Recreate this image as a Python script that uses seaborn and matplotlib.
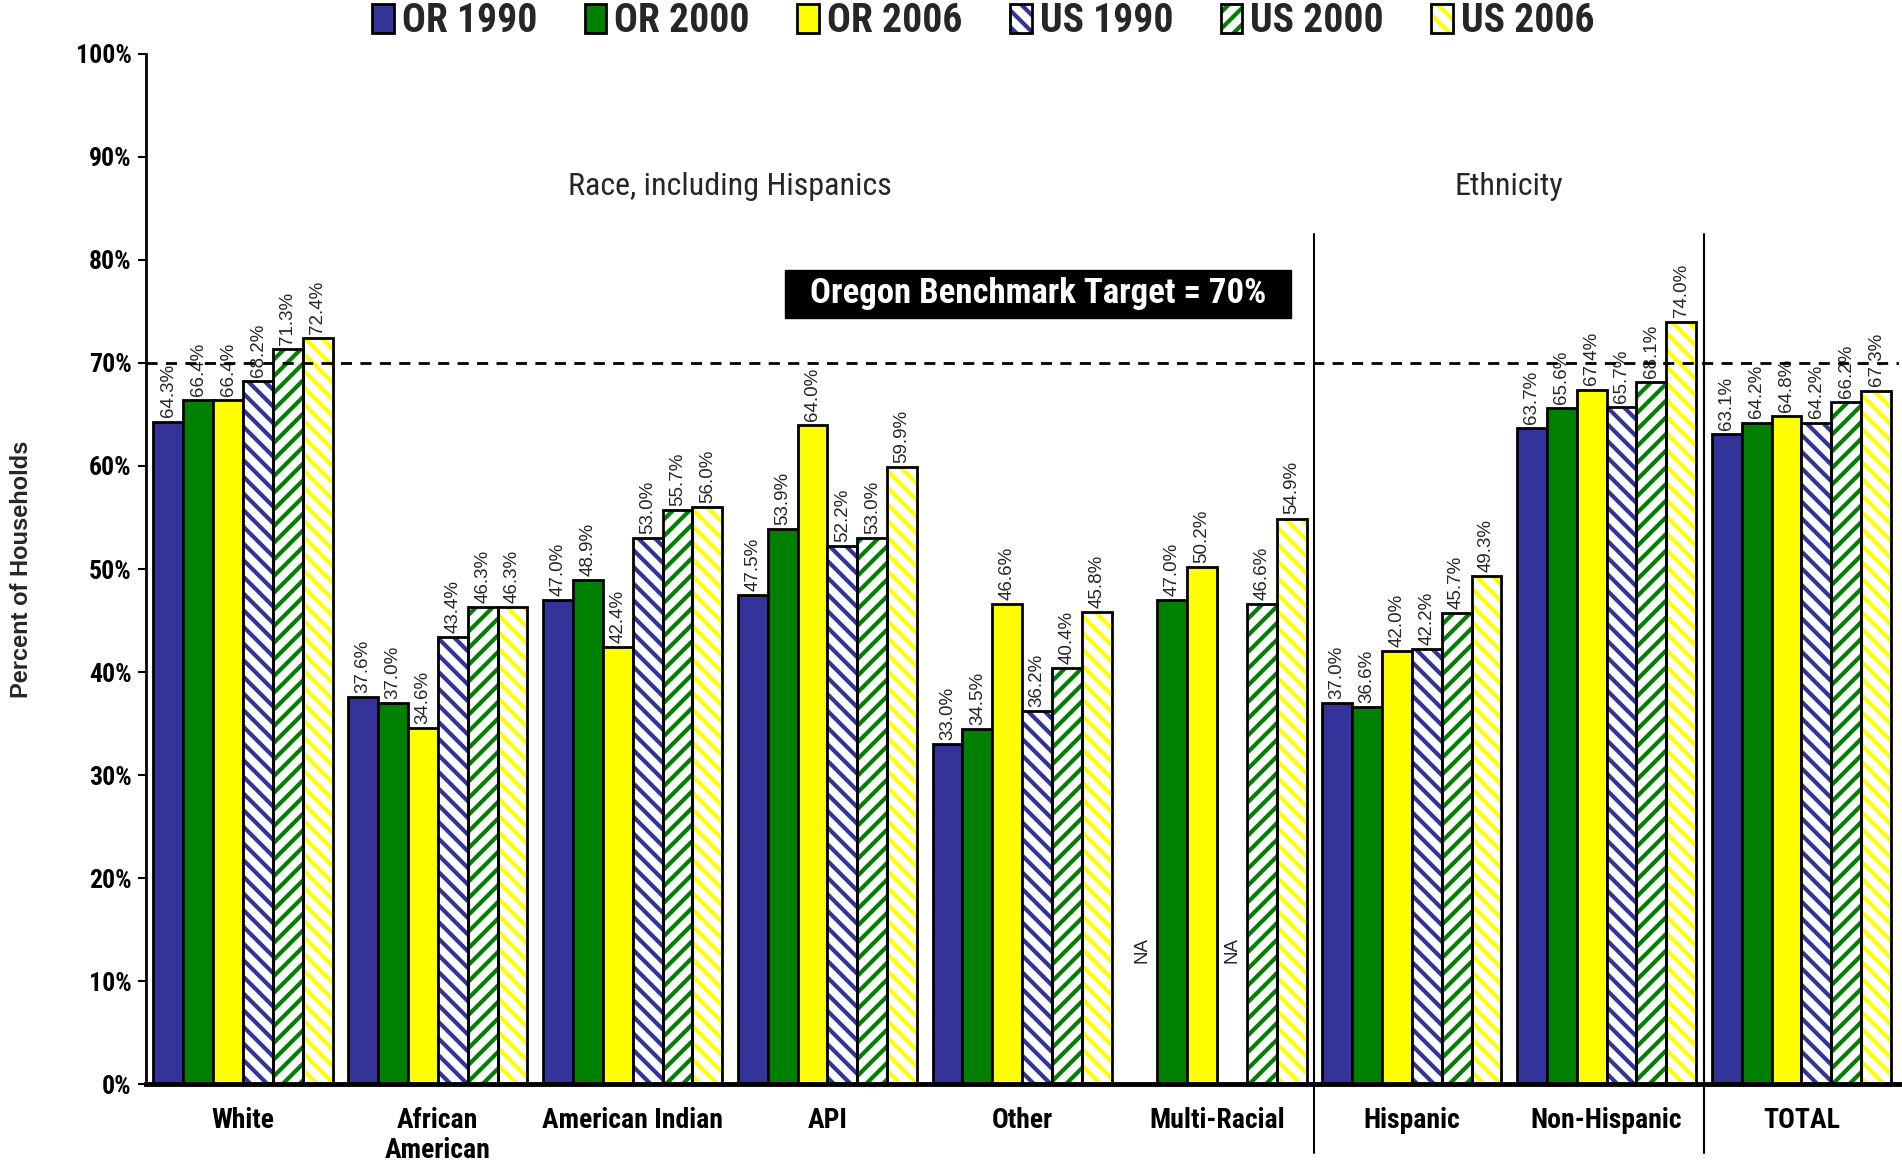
import matplotlib
matplotlib.use("Agg")
import matplotlib.pyplot as plt
from matplotlib import font_manager
from matplotlib.patches import Patch, Rectangle
from matplotlib.legend_handler import HandlerTuple
from matplotlib.ticker import FuncFormatter
import seaborn as sns
import pandas as pd
import numpy as np

# 数据：各族群住房拥有率（%）
categories = ['White', 'African\nAmerican', 'American Indian', 'API', 'Other',
              'Multi-Racial', 'Hispanic', 'Non-Hispanic', 'TOTAL']
series = ['OR 1990', 'OR 2000', 'OR 2006', 'US 1990', 'US 2000', 'US 2006']
or_1990 = [64.3, 37.6, 47.0, 47.5, 33.0, np.nan, 37.0, 63.7, 63.1]
or_2000 = [66.4, 37.0, 48.9, 53.9, 34.5, 47.0, 36.6, 65.6, 64.2]
or_2006 = [66.4, 34.6, 42.4, 64.0, 46.6, 50.2, 42.0, 67.4, 64.8]
us_1990 = [68.2, 43.4, 53.0, 52.2, 36.2, np.nan, 42.2, 65.7, 64.2]
us_2000 = [71.3, 46.3, 55.7, 53.0, 40.4, 46.6, 45.7, 68.1, 66.2]
us_2006 = [72.4, 46.3, 56.0, 59.9, 45.8, 54.9, 49.3, 74.0, 67.3]
target = 70

colors = ['#333399', '#008000', '#FFFF00', '#333399', '#008000', '#FFFF00']
hatches = [None, None, None, '\\\\', '//', '\\\\']

values = [or_1990, or_2000, or_2006, us_1990, us_2000, us_2006]
rows = []
for s, vals in zip(series, values):
    for c, v in zip(categories, vals):
        rows.append({'cat': c, 'series': s, 'val': v})
df = pd.DataFrame(rows).dropna()

# 找一个窄体字体（类似 Arial Narrow），找不到就用 Liberation Sans
installed = {f.name for f in font_manager.fontManager.ttflist}
narrow = 'Liberation Sans'
for cand in ['Liberation Sans Narrow', 'Arial Narrow', 'Roboto Condensed',
             'Open Sans Condensed', 'Noto Sans Condensed']:
    if cand in installed:
        narrow = cand
        break
k = 1.0 if narrow != 'Liberation Sans' else 0.85  # 字号缩放

sns.set_style('white')
plt.rcParams['font.family'] = [narrow, 'DejaVu Sans']
plt.rcParams['hatch.linewidth'] = 3.0

fig = plt.figure(figsize=(19.02, 11.64), dpi=100)
ax = fig.add_axes([0.0766, 0.0683, 0.9217, 0.8857])

width = 0.92
sns.barplot(data=df, x='cat', y='val', hue='series', order=categories,
            hue_order=series, palette=colors, width=width, gap=0,
            edgecolor='black', linewidth=2, saturation=1, legend=False, ax=ax)

# 斜线填充：白底+彩色斜线，再补一层黑色外框
for cont, col, h in zip(ax.containers, colors, hatches):
    for p in cont:
        if h is not None:
            p.set_facecolor('white')
            p.set_edgecolor(col)
            p.set_hatch(h)
            p.set_linewidth(0)
            ax.add_patch(Rectangle(p.get_xy(), p.get_width(), p.get_height(),
                                   fill=False, edgecolor='black', linewidth=2,
                                   zorder=p.get_zorder() + 0.1))
    ax.bar_label(cont, fmt='%.1f%%', rotation=90, padding=3, fontsize=13.5,
                 family='Liberation Sans')

# NA 标记
nb = len(series)
for j, vals in enumerate(values):
    for i, v in enumerate(vals):
        if np.isnan(v):
            xpos = i - width / 2 + (j + 0.5) * width / nb
            ax.text(xpos, 13, 'NA', rotation=90, ha='center', va='center',
                    fontsize=13.5, family='Liberation Sans')

# 目标线
ax.axhline(target, color='black', linestyle=(0, (4, 3)), linewidth=2, zorder=5)

# 分组竖线
for xs in [5.5, 7.5]:
    ax.plot([xs, xs], [-6.6, 82.5], color='black', linewidth=1.5, clip_on=False)

ax.text(2.5, 87.1, 'Race, including Hispanics', ha='center', va='center', fontsize=23 * k)
ax.text(6.5, 87.1, 'Ethnicity', ha='center', va='center', fontsize=23 * k)

ax.add_patch(Rectangle((2.78, 74.35), 2.6, 4.7, facecolor='black', edgecolor='black', zorder=6))
ax.text(4.08, 76.7, 'Oregon Benchmark Target = 70%', ha='center', va='center',
        color='white', fontsize=25 * k, fontweight='bold', zorder=7)

ax.set_xlim(-0.5, 8.5)
ax.set_ylim(0, 100)
ax.set_yticks(range(0, 101, 10))
ax.yaxis.set_major_formatter(FuncFormatter(lambda v, _: f'{v:.0f}%'))
ax.set_xlabel('')
ax.set_ylabel('Percent of Households', fontsize=17, fontweight='bold',
              family='Liberation Sans')
ax.yaxis.set_label_coords(-0.0706, 0.5)
ax.yaxis.label.set_va('center')
ax.tick_params(axis='y', length=6, width=1.5, labelsize=18.5 * k,
               direction='out', left=True, pad=4, colors='black')
ax.tick_params(axis='x', length=0, labelsize=20 * k, pad=16, colors='black')
for lab in ax.get_yticklabels() + ax.get_xticklabels():
    lab.set_fontweight('bold')
for lab in ax.get_xticklabels():
    lab.set_linespacing(1.15)

sns.despine(ax=ax)
ax.spines['left'].set_linewidth(2)
ax.spines['bottom'].set_linewidth(3.5)
ax.spines['left'].set_color('black')
ax.spines['bottom'].set_color('black')

# 图例
handles = []
for col, h in zip(colors, hatches):
    if h is None:
        handles.append(Patch(facecolor=col, edgecolor='black', linewidth=2))
    else:
        handles.append((Patch(facecolor='white', edgecolor=col, hatch=h, linewidth=0),
                        Patch(fill=False, edgecolor='black', linewidth=2)))
fig.legend(handles, series, loc='upper center', bbox_to_anchor=(0.517, 1.0), ncol=6,
           frameon=False, prop={'size': 28.5 * k, 'weight': 'bold'},
           handler_map={tuple: HandlerTuple(ndivide=1)},
           handlelength=0.55, handleheight=0.75, handletextpad=0.2, columnspacing=1.2,
           borderaxespad=0.0, borderpad=0.05)

fig.savefig('out.png', dpi=100)
